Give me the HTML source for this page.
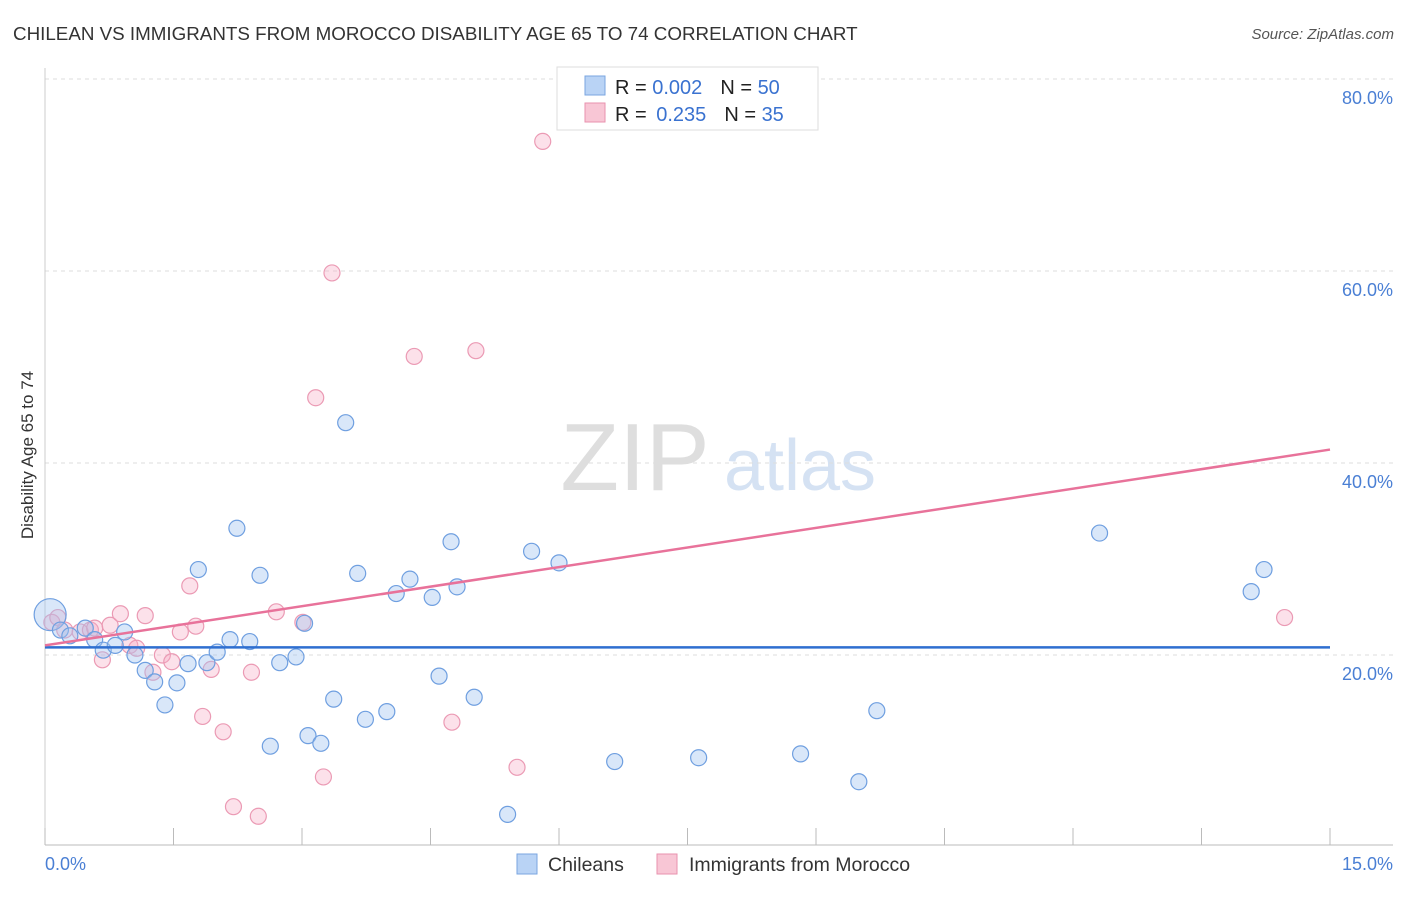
<!DOCTYPE html>
<html><head><meta charset="utf-8"><style>
body{margin:0;background:#fff;font-family:"Liberation Sans",sans-serif;}
svg text{font-family:"Liberation Sans",sans-serif;}
</style></head><body>
<svg id="chart" width="1406" height="892" xmlns="http://www.w3.org/2000/svg">
<text x="13" y="40" font-size="18.8" fill="#333">CHILEAN VS IMMIGRANTS FROM MOROCCO DISABILITY AGE 65 TO 74 CORRELATION CHART</text>
<text x="1394" y="39" font-size="15" fill="#555" text-anchor="end" font-style="italic">Source: ZipAtlas.com</text>
<g>
<text x="635" y="490" font-size="96" fill="#dedede" text-anchor="middle" font-family="Liberation Serif">ZIP</text>
<text x="800" y="490" font-size="72" fill="#d5e2f3" text-anchor="middle">atlas</text>
</g>
<g id="grid"></g>
<g id="axes"></g>
<g id="marks"></g>
<text transform="translate(33,455) rotate(-90)" font-size="17" fill="#333" text-anchor="middle">Disability Age 65 to 74</text>
<g>
<rect x="557" y="67" width="261" height="63" fill="#fff" stroke="#ddd"/>
<rect x="585" y="76" width="20" height="19" fill="#b9d3f5" stroke="#7aa6e0"/>
<rect x="585" y="103" width="20" height="19" fill="#f8c6d5" stroke="#e892ae"/>
<text x="615" y="94" font-size="20" fill="#222">R = <tspan fill="#3a72d0">0.002</tspan><tspan dx="18">N = </tspan><tspan fill="#3a72d0">50</tspan></text>
<text x="615" y="121" font-size="20" fill="#222">R = <tspan dx="4" fill="#3a72d0">0.235</tspan><tspan dx="18">N = </tspan><tspan fill="#3a72d0">35</tspan></text>
</g>
<g>
<rect x="517" y="854" width="20" height="20" fill="#b9d3f5" stroke="#7aa6e0"/>
<text x="548" y="871" font-size="19.5" fill="#333">Chileans</text>
<rect x="657" y="854" width="20" height="20" fill="#f8c6d5" stroke="#e892ae"/>
<text x="689" y="871" font-size="19.5" fill="#333">Immigrants from Morocco</text>
</g>
</svg>
<script>
const yTicks=[20,40,60,80];
const yTickLabels=["20.0%","40.0%","60.0%","80.0%"];
const xEndLabels=["0.0%","15.0%"];
const blueX=[0.06,0.18,0.29,0.47,0.58,0.68,0.82,0.93,1.05,1.17,1.28,1.40,1.54,1.67,1.79,1.89,2.01,2.16,2.24,2.39,2.51,2.63,2.74,2.93,3.03,3.07,3.22,3.37,3.51,3.65,3.74,3.99,4.10,4.26,4.52,4.60,4.74,4.81,5.01,5.40,5.68,6.00,6.65,7.63,8.82,9.50,9.71,12.31,14.08,14.23];
const blueY=[24.2,22.6,22.0,22.8,21.6,20.5,21.0,22.4,20.0,18.4,17.2,14.8,17.1,19.1,28.9,19.2,20.3,21.6,33.2,21.4,28.3,10.5,19.2,19.8,23.3,11.6,10.8,15.4,44.2,28.5,13.3,14.1,26.4,27.9,26.0,17.8,31.8,27.1,15.6,3.4,30.8,29.6,8.9,9.3,9.7,6.8,14.2,32.7,26.6,28.9];
const pinkX=[0.08,0.15,0.23,0.41,0.53,0.58,0.67,0.76,0.88,0.99,1.07,1.17,1.26,1.37,1.48,1.58,1.69,1.76,1.84,1.94,2.08,2.20,2.41,2.49,2.70,3.01,3.16,3.25,3.35,4.31,4.75,5.03,5.51,5.81,14.47];
const pinkY=[23.4,23.9,22.6,22.4,22.6,22.8,19.5,23.1,24.3,21.0,20.7,24.1,18.2,20.0,19.3,22.4,27.2,23.0,13.6,18.5,12.0,4.2,18.2,3.2,24.5,23.4,46.8,7.3,59.8,51.1,13.0,51.7,8.3,73.5,23.9];
const blueTrend=[20.8,20.8];
const pinkTrend=[21.0,41.4];
const NS="http://www.w3.org/2000/svg";
const sx=v=>45+v*(1330-45)/15;
const sy=v=>847-v*9.6;
function mk(tag,attrs,parent){const e=document.createElementNS(NS,tag);for(const k in attrs)e.setAttribute(k,attrs[k]);document.getElementById(parent).appendChild(e);return e;}
yTicks.forEach((t,i)=>{
 const g=mk('line',{x1:45,x2:1393,y1:sy(t),y2:sy(t),stroke:'#ddd','stroke-dasharray':'4,4'},'grid');
 
 
 const l=mk('text',{x:1393,y:sy(t)+25,'font-size':18,fill:'#4a7fd4','text-anchor':'end'},'axes');
 l.textContent=yTickLabels[i];
 
 
});
const ax=mk('line',{x1:45,x2:1393,y1:845,y2:845,stroke:'#bbb'},'axes');


const ay=mk('line',{x1:45,x2:45,y1:68,y2:845,stroke:'#ccc'},'axes');


for(let i=0;i<=10;i++){
 const t=mk('line',{x1:sx(i*1.5),x2:sx(i*1.5),y1:828,y2:845,stroke:'#bbb'},'axes');
 
 
}
[[0,'start'],[15,'end']].forEach((p,i)=>{
 const l=mk('text',{x:i?1393:45,y:870,'font-size':18,fill:'#4a7fd4','text-anchor':p[1]},'axes');
 l.textContent=xEndLabels[i];
 
 
});
pinkX.forEach((x,i)=>{
 const c=mk('circle',{cx:sx(x),cy:sy(pinkY[i]),r:8,fill:'rgba(245,170,195,0.35)',stroke:'#eb9ab4','stroke-width':1.2},'marks');
 
 
});
blueX.forEach((x,i)=>{
 const c=mk('circle',{cx:sx(x),cy:sy(blueY[i]),r:i===0?16:8,fill:'rgba(160,195,240,0.4)',stroke:'#6f9fe0','stroke-width':1.2},'marks');
 
 
});
const bl=mk('line',{x1:sx(0),x2:sx(15),y1:sy(blueTrend[0]),y2:sy(blueTrend[1]),stroke:'#2f6fd0','stroke-width':2.5},'marks');


const pl=mk('line',{x1:sx(0),x2:sx(15),y1:sy(pinkTrend[0]),y2:sy(pinkTrend[1]),stroke:'#e8729a','stroke-width':2.5},'marks');


</script>
</body></html>
